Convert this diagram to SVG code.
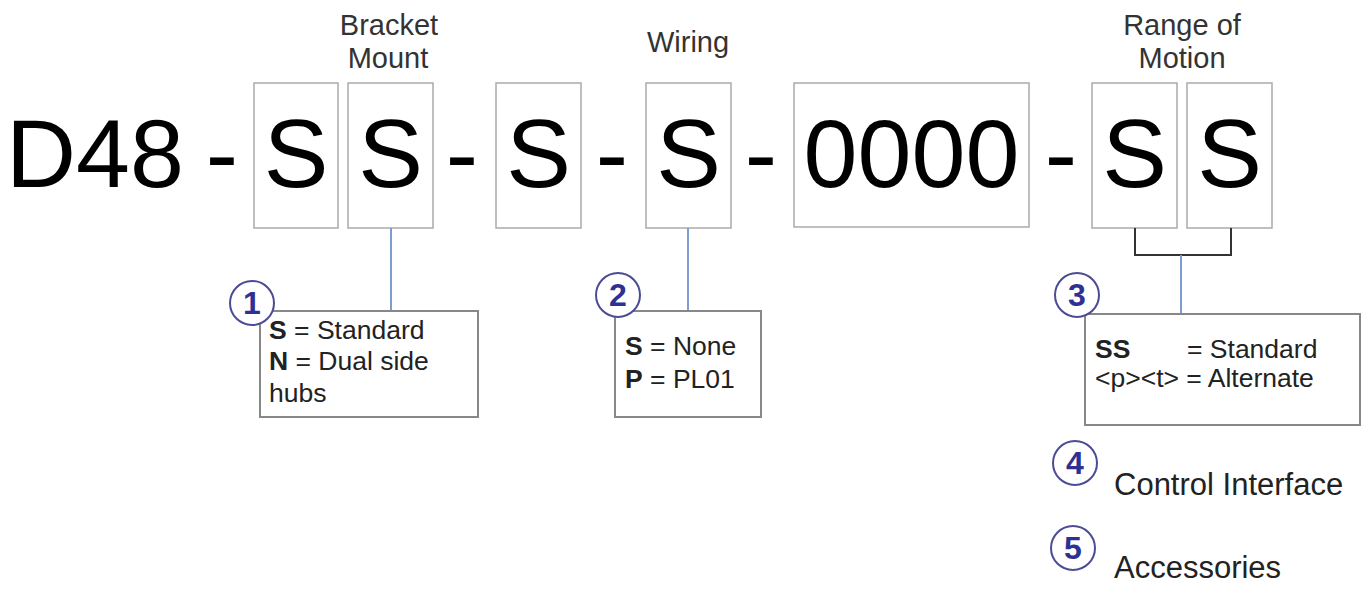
<svg xmlns="http://www.w3.org/2000/svg" width="1364" height="591" viewBox="0 0 1364 591">
<style>
.big{font-family:"Liberation Sans",Arial,sans-serif;font-size:97px;fill:#000;text-anchor:middle}
.hdr{font-family:"Liberation Sans",Arial,sans-serif;font-size:29px;fill:#333;text-anchor:middle}
.lbl{font-family:"Liberation Sans",Arial,sans-serif;font-size:26.5px;fill:#222}
.lg{font-family:"Liberation Sans",Arial,sans-serif;font-size:31px;fill:#222}
.num{font-family:"Liberation Sans",Arial,sans-serif;font-size:32px;font-weight:bold;fill:#2e3192;text-anchor:middle}
.seg{fill:#fff;stroke:#aaa;stroke-width:1.5}
.box{fill:#fff;stroke:#888;stroke-width:2}
.circ{fill:#fff;stroke:#4b4c96;stroke-width:2}
.conn{stroke:#7d9ccf;stroke-width:2;fill:none}
.brk{stroke:#333;stroke-width:2;fill:none}
</style>
<rect width="1364" height="591" fill="#fff"/>
<g id="headers">
<text class="hdr" x="389" y="35">Bracket</text>
<text class="hdr" x="388" y="68">Mount</text>
<text class="hdr" x="688" y="52">Wiring</text>
<text class="hdr" x="1182" y="35">Range of</text>
<text class="hdr" x="1182" y="68">Motion</text>
</g>
<g id="code">
<text class="big" x="95" y="187">D48</text>
<text class="big" x="222" y="187">-</text>
<text class="big" x="462" y="187">-</text>
<text class="big" x="612" y="187">-</text>
<text class="big" x="761" y="187">-</text>
<text class="big" x="1061" y="187">-</text>
</g>
<g id="seg1"><rect class="seg" x="254" y="83" width="84" height="145"/><text class="big" x="296" y="187">S</text></g>
<g id="seg2"><rect class="seg" x="348" y="83" width="85" height="145"/><text class="big" x="390.5" y="187">S</text></g>
<g id="seg3"><rect class="seg" x="496" y="83" width="85" height="145"/><text class="big" x="538.5" y="187">S</text></g>
<g id="seg4"><rect class="seg" x="646" y="83" width="85" height="145"/><text class="big" x="688.5" y="187">S</text></g>
<g id="seg5"><rect class="seg" x="794" y="83" width="235" height="144"/><text class="big" x="911.5" y="187">0000</text></g>
<g id="seg6"><rect class="seg" x="1092" y="83" width="85" height="145"/><text class="big" x="1134.5" y="187">S</text></g>
<g id="seg7"><rect class="seg" x="1187" y="83" width="85" height="145"/><text class="big" x="1229.5" y="187">S</text></g>
<g id="connectors">
<line class="conn" x1="391" y1="228" x2="391" y2="311"/>
<line class="conn" x1="688" y1="228" x2="688" y2="311"/>
<polyline class="brk" points="1135,228 1135,255 1231,255 1231,228"/>
<line class="conn" x1="1181" y1="255" x2="1181" y2="314"/>
</g>
<g id="opt1">
<rect class="box" x="260" y="311" width="218" height="106"/>
<text class="lbl" x="269" y="339"><tspan font-weight="bold">S</tspan> = Standard</text>
<text class="lbl" x="269" y="370"><tspan font-weight="bold">N</tspan> = Dual side</text>
<text class="lbl" x="269" y="402">hubs</text>
<circle class="circ" cx="252" cy="303" r="22"/>
<text class="num" x="252" y="314">1</text>
</g>
<g id="opt2">
<rect class="box" x="615" y="311" width="146" height="106"/>
<text class="lbl" x="625" y="355"><tspan font-weight="bold">S</tspan> = None</text>
<text class="lbl" x="625" y="388"><tspan font-weight="bold">P</tspan> = PL01</text>
<circle class="circ" cx="618" cy="295" r="22"/>
<text class="num" x="618" y="306">2</text>
</g>
<g id="opt3">
<rect class="box" x="1085" y="314" width="275" height="111"/>
<text class="lbl" x="1095" y="358"><tspan font-weight="bold">SS</tspan></text>
<text class="lbl" x="1187" y="358">= Standard</text>
<text class="lbl" x="1095" y="387">&lt;p&gt;&lt;t&gt; = Alternate</text>
<circle class="circ" cx="1077" cy="295" r="22"/>
<text class="num" x="1077" y="306">3</text>
</g>
<g id="opt4">
<circle class="circ" cx="1075" cy="463" r="22"/>
<text class="num" x="1075" y="474">4</text>
<text class="lg" x="1114" y="495">Control Interface</text>
</g>
<g id="opt5">
<circle class="circ" cx="1073" cy="548" r="22"/>
<text class="num" x="1073" y="559">5</text>
<text class="lg" x="1114" y="578">Accessories</text>
</g>
</svg>
